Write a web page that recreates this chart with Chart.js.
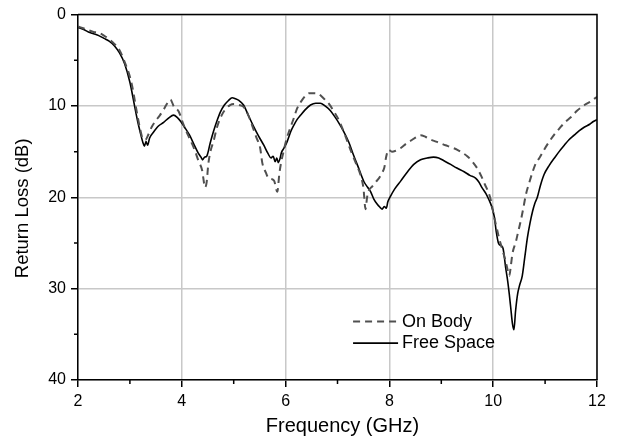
<!DOCTYPE html>
<html>
<head>
<meta charset="utf-8">
<script src="https://cdn.jsdelivr.net/npm/chart.js@4/dist/chart.umd.min.js"></script>
<style>
  html, body { margin: 0; padding: 0; background: #fff; }
  #wrap { width: 618px; height: 439px; }
</style>
</head>
<body>
<div id="wrap"><canvas id="c" width="618" height="439"></canvas></div>
<script>
// Measured return loss (dB) vs frequency (GHz)
const seriesNames = ['On Body', 'Free Space'];
const xTitle = 'Frequency (GHz)';
const yTitle = 'Return Loss (dB)';

const freqOnBody = [
  2.00, 2.10, 2.20, 2.30, 2.40, 2.50, 2.60, 2.70, 2.80, 2.90,
  3.00, 3.05, 3.10, 3.15, 3.20, 3.25, 3.30, 3.35, 3.42, 3.50,
  3.58, 3.66, 3.72, 3.78, 3.85, 3.94, 4.03, 4.12, 4.24, 4.32,
  4.39, 4.45, 4.48, 4.51, 4.56, 4.61, 4.68, 4.77, 4.85, 4.93,
  5.00, 5.10, 5.19, 5.28, 5.36, 5.44, 5.51, 5.55, 5.62, 5.67,
  5.73, 5.78, 5.84, 5.88, 5.92, 5.96, 6.02, 6.09, 6.16, 6.22,
  6.30, 6.38, 6.46, 6.55, 6.64, 6.72, 6.84, 6.93, 7.03, 7.14,
  7.25, 7.35, 7.44, 7.50, 7.54, 7.57, 7.60, 7.67, 7.74, 7.80,
  7.86, 7.90, 7.94, 7.98, 8.05, 8.12, 8.22, 8.33, 8.44, 8.52,
  8.60, 8.70, 8.80, 8.90, 8.99, 9.08, 9.18, 9.31, 9.40, 9.50,
  9.60, 9.70, 9.78, 9.84, 9.89, 9.95, 10.02, 10.07, 10.11, 10.17,
  10.24, 10.28, 10.31, 10.34, 10.37, 10.44, 10.48, 10.53, 10.58, 10.63,
  10.70, 10.76, 10.82, 10.89, 10.98, 11.08, 11.18, 11.27, 11.38, 11.50,
  11.62, 11.76, 11.88, 12.00
];
const lossOnBody = [
  1.3, 1.5, 1.7, 1.9, 2.0, 2.3, 2.7, 3.2, 3.9, 5.2,
  6.8, 8.0, 9.6, 11.2, 12.6, 13.6, 13.7, 13.2, 12.3, 11.6,
  11.0, 10.3, 9.7, 9.3, 10.1, 10.6, 12.0, 13.2, 14.7, 16.0,
  17.0, 18.9, 18.3, 16.4, 14.8, 13.9, 12.3, 11.0, 10.3, 9.9,
  9.8, 9.9, 10.1, 11.0, 12.2, 13.5, 14.6, 16.2, 17.3, 17.9,
  18.0, 18.2, 19.4, 17.4, 16.0, 15.0, 13.6, 12.4, 11.3, 10.3,
  9.5, 8.9, 8.6, 8.6, 8.7, 9.1, 9.8, 10.6, 11.6, 13.1,
  14.8, 16.2, 17.5, 19.0, 21.3, 20.0, 19.3, 18.8, 18.3, 17.9,
  17.3, 16.8, 15.5, 14.8, 15.0, 14.9, 14.6, 14.1, 13.7, 13.4,
  13.2, 13.4, 13.7, 13.9, 14.1, 14.3, 14.5, 14.8, 15.1, 15.5,
  16.1, 16.9, 17.8, 18.6, 19.2, 20.2, 22.2, 23.4, 24.4, 25.6,
  27.0, 28.0, 28.6, 27.5, 26.2, 24.8, 23.8, 22.6, 21.2, 19.7,
  18.3, 17.2, 16.3, 15.7, 14.8, 13.9, 13.1, 12.5, 11.8, 11.2,
  10.5, 9.9, 9.5, 9.0
];

const freqFreeSpace = [
  2.00, 2.10, 2.20, 2.30, 2.40, 2.50, 2.60, 2.70, 2.80, 2.90,
  3.00, 3.05, 3.10, 3.15, 3.20, 3.25, 3.28, 3.31, 3.34, 3.38,
  3.45, 3.55, 3.65, 3.75, 3.84, 3.92, 3.98, 4.05, 4.15, 4.25,
  4.32, 4.37, 4.40, 4.44, 4.48, 4.55, 4.61, 4.68, 4.74, 4.82,
  4.90, 4.97, 5.03, 5.10, 5.19, 5.28, 5.38, 5.48, 5.58, 5.66,
  5.72, 5.76, 5.80, 5.83, 5.86, 5.89, 5.92, 5.97, 6.03, 6.10,
  6.16, 6.22, 6.29, 6.38, 6.48, 6.58, 6.67, 6.76, 6.86, 6.95,
  7.03, 7.12, 7.22, 7.31, 7.40, 7.51, 7.58, 7.64, 7.70, 7.77,
  7.82, 7.86, 7.90, 7.94, 7.97, 8.02, 8.10, 8.22, 8.35, 8.47,
  8.60, 8.73, 8.85, 8.95, 9.05, 9.18, 9.30, 9.44, 9.55, 9.66,
  9.72, 9.79, 9.86, 9.92, 9.97, 10.02, 10.06, 10.10, 10.15, 10.19,
  10.24, 10.28, 10.31, 10.34, 10.37, 10.40, 10.43, 10.47, 10.51, 10.56,
  10.61, 10.66, 10.71, 10.76, 10.80, 10.85, 10.91, 10.98, 11.08, 11.18,
  11.27, 11.37, 11.46, 11.56, 11.66, 11.76, 11.86, 11.93, 12.00
];
const lossFreeSpace = [
  1.4, 1.6, 1.9, 2.1, 2.3, 2.6, 2.9, 3.4, 4.2, 5.4,
  7.4, 8.8, 10.3, 11.7, 12.9, 14.0, 14.4, 13.9, 14.3, 13.5,
  12.9, 12.2, 11.8, 11.3, 11.0, 11.3, 11.7, 12.3, 13.2, 14.4,
  15.2, 15.6, 15.9, 15.6, 15.5, 14.0, 12.8, 11.6, 10.7, 9.9,
  9.4, 9.1, 9.2, 9.4, 9.9, 11.0, 12.2, 13.3, 14.3, 15.2,
  15.7, 15.5, 16.1, 15.7, 16.2, 15.8, 15.1, 14.6, 13.9, 12.8,
  12.1, 11.5, 11.0, 10.4, 9.9, 9.7, 9.7, 10.0, 10.5, 11.2,
  11.9, 12.8, 14.0, 15.4, 16.7, 18.3, 18.9, 19.4, 20.2, 20.8,
  21.1, 21.3, 21.0, 21.2, 20.5, 19.9, 19.1, 18.2, 17.2, 16.4,
  15.9, 15.7, 15.6, 15.7, 16.0, 16.4, 16.8, 17.2, 17.6, 17.9,
  18.3, 19.0, 19.6, 20.3, 21.0, 22.1, 23.8, 25.0, 25.3, 25.6,
  27.7, 29.2, 30.6, 32.2, 33.8, 34.5, 32.5, 30.6, 29.6, 28.6,
  26.5, 24.4, 22.8, 21.5, 20.7, 20.0, 18.7, 17.5, 16.5, 15.7,
  15.0, 14.3, 13.7, 13.2, 12.7, 12.3, 12.0, 11.7, 11.5
];

// Axis ticks
const xMajorTicks = [2, 4, 6, 8, 10, 12];
const xMinorTicks = [3, 5, 7, 9, 11];
const yMajorTicks = [0, 10, 20, 30, 40];
const yMinorTicks = [5, 15, 25, 35];

const FONT = '"Liberation Sans", Arial, Helvetica, sans-serif';

const toPoints = (xs, ys) => xs.map((x, i) => ({ x, y: ys[i] }));

// Top/right frame and short minor tick marks
const framePlugin = {
  id: 'frame',
  afterDatasetsDraw(chart) {
    const { ctx, chartArea: a, scales } = chart;
    ctx.save();
    ctx.strokeStyle = '#000';
    ctx.lineWidth = 1.5;
    ctx.beginPath();
    ctx.moveTo(a.left, a.top);
    ctx.lineTo(a.right, a.top);
    ctx.lineTo(a.right, a.bottom);
    ctx.stroke();
    ctx.beginPath();
    xMinorTicks.forEach(v => {
      const px = scales.x.getPixelForValue(v);
      ctx.moveTo(px, a.bottom);
      ctx.lineTo(px, a.bottom + 4);
    });
    yMinorTicks.forEach(v => {
      const py = scales.y.getPixelForValue(v);
      ctx.moveTo(a.left - 4, py);
      ctx.lineTo(a.left, py);
    });
    ctx.stroke();
    ctx.restore();
  }
};

// Axis titles
const axisTitles = {
  id: 'axisTitles',
  afterDraw(chart) {
    const { ctx, chartArea: a } = chart;
    ctx.save();
    ctx.fillStyle = '#000';
    ctx.textAlign = 'center';
    ctx.textBaseline = 'middle';
    ctx.font = '20px ' + FONT;
    ctx.fillText(xTitle, (a.left + a.right) / 2 + 5, chart.height - 13);
    ctx.translate(23, (a.top + a.bottom) / 2 + 11);
    ctx.rotate(-Math.PI / 2);
    ctx.font = '18.5px ' + FONT;
    ctx.fillText(yTitle, 0, 0);
    ctx.restore();
  }
};

// Legend drawn inside the plot area, lower right
const insetLegend = {
  id: 'insetLegend',
  afterDraw(chart) {
    const { ctx, chartArea: a } = chart;
    const x0 = a.left + a.width * 0.530;
    const x1 = x0 + 45;
    const rows = [a.top + a.height * 0.840, a.top + a.height * 0.899];
    chart.data.datasets.forEach((ds, i) => {
      ctx.save();
      ctx.strokeStyle = ds.borderColor;
      ctx.lineWidth = ds.borderWidth;
      ctx.setLineDash(ds.borderDash || []);
      ctx.beginPath();
      ctx.moveTo(x0, rows[i]);
      ctx.lineTo(x1, rows[i]);
      ctx.stroke();
      ctx.setLineDash([]);
      ctx.fillStyle = '#000';
      ctx.font = '18px ' + FONT;
      ctx.textBaseline = 'middle';
      ctx.textAlign = 'left';
      ctx.fillText(ds.label, x1 + 4, rows[i]);
      ctx.restore();
    });
  }
};

new Chart(document.getElementById('c'), {
  type: 'line',
  data: {
    datasets: [
      {
        label: seriesNames[0],
        data: toPoints(freqOnBody, lossOnBody),
        borderColor: '#505050',
        borderWidth: 2,
        borderDash: [7, 5],
        pointRadius: 0,
        fill: false,
        cubicInterpolationMode: 'monotone'
      },
      {
        label: seriesNames[1],
        data: toPoints(freqFreeSpace, lossFreeSpace),
        borderColor: '#000000',
        borderWidth: 1.6,
        pointRadius: 0,
        fill: false,
        cubicInterpolationMode: 'monotone'
      }
    ]
  },
  options: {
    responsive: false,
    devicePixelRatio: 1,
    animation: false,
    layout: { padding: { left: 0, right: 21, top: 12, bottom: 0 } },
    plugins: {
      legend: { display: false },
      tooltip: { enabled: false }
    },
    scales: {
      x: {
        type: 'linear',
        min: 2,
        max: 12,
        afterBuildTicks: s => { s.ticks = xMajorTicks.map(v => ({ value: v })); },
        afterFit: s => { s.height = 59; },
        ticks: {
          color: '#000',
          font: { family: FONT, size: 16 },
          padding: 5,
          maxRotation: 0
        },
        grid: {
          color: '#c8c8c8',
          lineWidth: 1.5,
          tickLength: 7,
          tickColor: '#000',
          tickWidth: 1.5
        },
        border: { color: '#000', width: 1.5 },
        title: { display: false }
      },
      y: {
        type: 'linear',
        min: 0,
        max: 40,
        reverse: true,
        afterBuildTicks: s => { s.ticks = yMajorTicks.map(v => ({ value: v })); },
        afterFit: s => { s.width = 78; },
        ticks: {
          color: '#000',
          font: { family: FONT, size: 16 },
          padding: 5
        },
        grid: {
          color: '#c8c8c8',
          lineWidth: 1.5,
          tickLength: 7,
          tickColor: '#000',
          tickWidth: 1.5
        },
        border: { color: '#000', width: 1.5 },
        title: { display: false }
      }
    }
  },
  plugins: [framePlugin, axisTitles, insetLegend]
});
</script>
</body>
</html>
